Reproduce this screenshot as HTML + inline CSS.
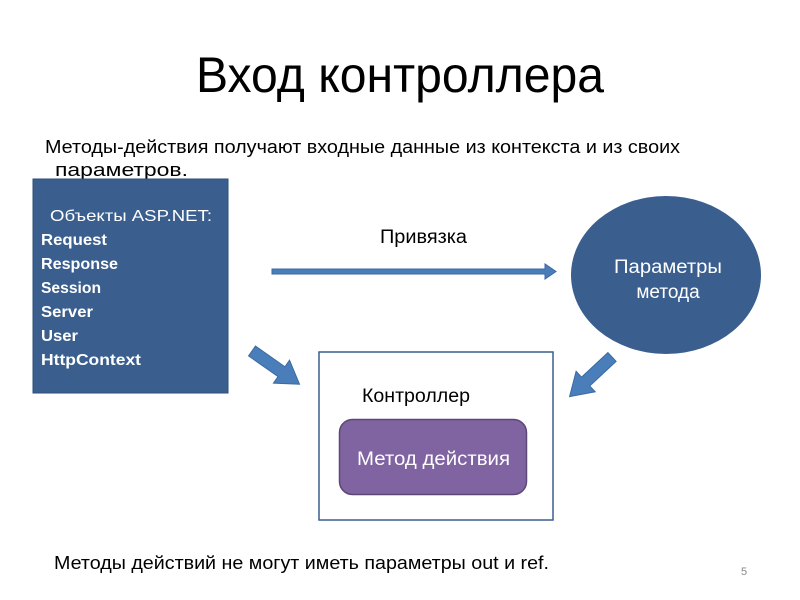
<!DOCTYPE html>
<html><head><meta charset="utf-8"><style>html,body{margin:0;padding:0;background:#fff}svg{display:block}</style></head><body>
<svg width="800" height="600" viewBox="0 0 800 600" xmlns="http://www.w3.org/2000/svg" font-family="Liberation Sans, DejaVu Sans, sans-serif">
<rect width="800" height="600" fill="#fff"/>
<text x="196" y="92" font-size="50" textLength="408" lengthAdjust="spacingAndGlyphs" fill="#000">Вход контроллера</text>
<text x="45" y="153" font-size="18" textLength="635" lengthAdjust="spacingAndGlyphs" fill="#000">Методы-действия получают входные данные из контекста и из своих</text>
<text x="55" y="176" font-size="18" textLength="133" lengthAdjust="spacingAndGlyphs" fill="#000">параметров.</text>
<rect x="33" y="179" width="195" height="214" fill="#3a5f8f" stroke="#2e4f78" stroke-width="1"/>
<g fill="#fff" font-size="16" font-weight="bold">
<text x="50" y="221" font-weight="normal" textLength="162" lengthAdjust="spacingAndGlyphs">Объекты ASP.NET:</text>
<text x="41" y="245" textLength="66" lengthAdjust="spacingAndGlyphs">Request</text>
<text x="41" y="269" textLength="77" lengthAdjust="spacingAndGlyphs">Response</text>
<text x="41" y="293" textLength="60" lengthAdjust="spacingAndGlyphs">Session</text>
<text x="41" y="317" textLength="52" lengthAdjust="spacingAndGlyphs">Server</text>
<text x="41" y="341" textLength="37" lengthAdjust="spacingAndGlyphs">User</text>
<text x="41" y="365" textLength="100" lengthAdjust="spacingAndGlyphs">HttpContext</text>
</g>
<text x="380" y="243" font-size="19" textLength="87" lengthAdjust="spacingAndGlyphs" fill="#000">Привязка</text>
<polygon points="272,269 545,269 545,264 556,271.5 545,279 545,274 272,274" fill="#4a7ebb" stroke="#3a6aa0" stroke-width="1"/>
<ellipse cx="666" cy="275" rx="95" ry="79" fill="#3a5f8f"/>
<text x="668" y="273" font-size="19" fill="#fff" text-anchor="middle" textLength="108" lengthAdjust="spacingAndGlyphs">Параметры</text>
<text x="668" y="298" font-size="19" fill="#fff" text-anchor="middle">метода</text>
<rect x="319" y="352" width="234" height="168" fill="#fff" stroke="#3a5f8f" stroke-width="1.5"/>
<text x="362" y="402" font-size="19" textLength="108" lengthAdjust="spacingAndGlyphs" fill="#000">Контроллер</text>
<rect x="339.5" y="419.5" width="187" height="75" rx="13" fill="#8064a2" stroke="#5c4776" stroke-width="1.5"/>
<text x="357" y="465" font-size="19" fill="#fff" textLength="153" lengthAdjust="spacingAndGlyphs">Метод  действия</text>
<g transform="translate(252,351) rotate(35)">
<polygon points="0,-6 36,-6 36,-14 58,0 36,14 36,6 0,6" fill="#4a7ebb" stroke="#3a6aa0" stroke-width="1"/>
</g>
<g transform="translate(612,357) rotate(137)">
<polygon points="0,-6 36,-6 36,-14 58,0 36,14 36,6 0,6" fill="#4a7ebb" stroke="#3a6aa0" stroke-width="1"/>
</g>
<text x="54" y="569" font-size="18" textLength="495" lengthAdjust="spacingAndGlyphs" fill="#000">Методы действий не могут иметь параметры out и ref.</text>
<text x="741" y="575" font-size="11" fill="#888">5</text>
</svg>
</body></html>
